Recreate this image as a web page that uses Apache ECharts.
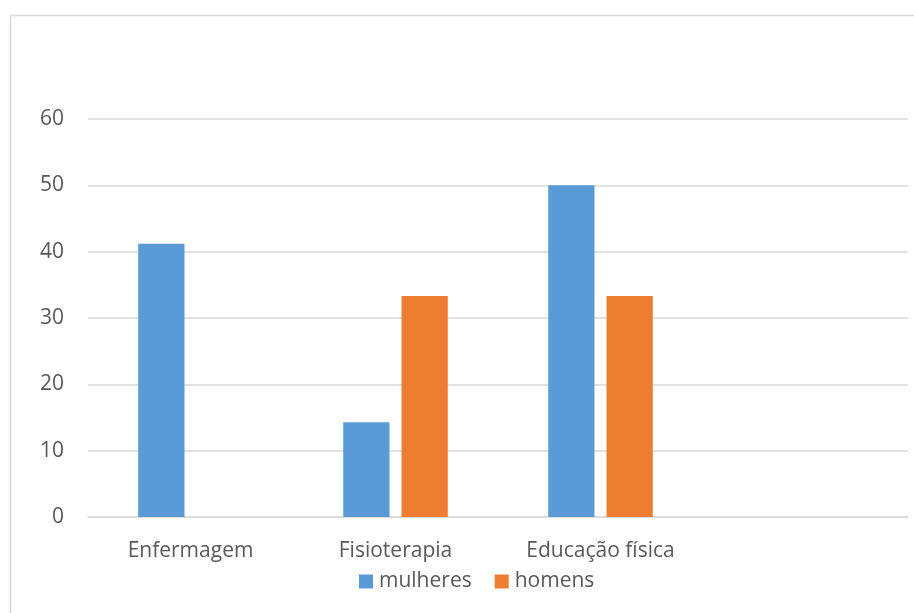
<!DOCTYPE html>
<html>
<head>
<meta charset="utf-8">
<script src="https://cdn.jsdelivr.net/npm/echarts@6/dist/echarts.min.js"></script>
<style>
html,body{margin:0;padding:0;background:#fff;}
#chart{width:914px;height:613px;}
</style>
</head>
<body>
<div id="chart"></div>
<script>
const categories = ['Enfermagem', 'Fisioterapia', 'Educação física', ''];
const mulheres = [41.2, 14.3, 50, null];
const homens = [0, 33.3, 33.3, null];
const yTicks = { min: 0, max: 60, interval: 10 };

const chart = echarts.init(document.getElementById('chart'), null, { renderer: 'canvas' });
const font = 'Open Sans, Noto Sans, sans-serif';
chart.setOption({
  animation: false,
  backgroundColor: '#fff',
  textStyle: { fontFamily: font },
  graphic: [{
    type: 'rect',
    shape: { x: 10.5, y: 15.5, width: 1000, height: 1000 },
    style: { fill: 'none', stroke: '#d9d9d9', lineWidth: 1.5 },
    silent: true, z: -10
  }],
  grid: { left: 88, right: 6, top: 119, bottom: 96, containLabel: false },
  legend: {
    data: ['mulheres', 'homens'],
    bottom: 16,
    left: 354,
    icon: 'rect',
    itemWidth: 14,
    itemHeight: 14,
    itemGap: 23,
    textStyle: { color: '#595959', fontSize: 21, fontFamily: font, padding: [0, 0, 0, 1] }
  },
  xAxis: {
    type: 'category',
    data: categories,
    axisLine: { show: true, lineStyle: { color: '#d9d9d9', width: 1.5 } },
    axisTick: { show: false },
    axisLabel: { color: '#595959', fontSize: 21, margin: 24, fontFamily: font, interval: 0 },
    splitLine: { show: false }
  },
  yAxis: {
    type: 'value',
    min: yTicks.min, max: yTicks.max, interval: yTicks.interval,
    axisLine: { show: false },
    axisTick: { show: false },
    axisLabel: { color: '#595959', fontSize: 21, margin: 24, fontFamily: font },
    splitLine: { lineStyle: { color: '#d9d9d9', width: 1.5 } }
  },
  series: [
    { name: 'mulheres', type: 'bar', data: mulheres, itemStyle: { color: '#5B9BD5' },
      barGap: '26%', barCategoryGap: '49%' },
    { name: 'homens', type: 'bar', data: homens, itemStyle: { color: '#ED7D31' },
      barGap: '26%', barCategoryGap: '49%' }
  ]
});
</script>
</body>
</html>
